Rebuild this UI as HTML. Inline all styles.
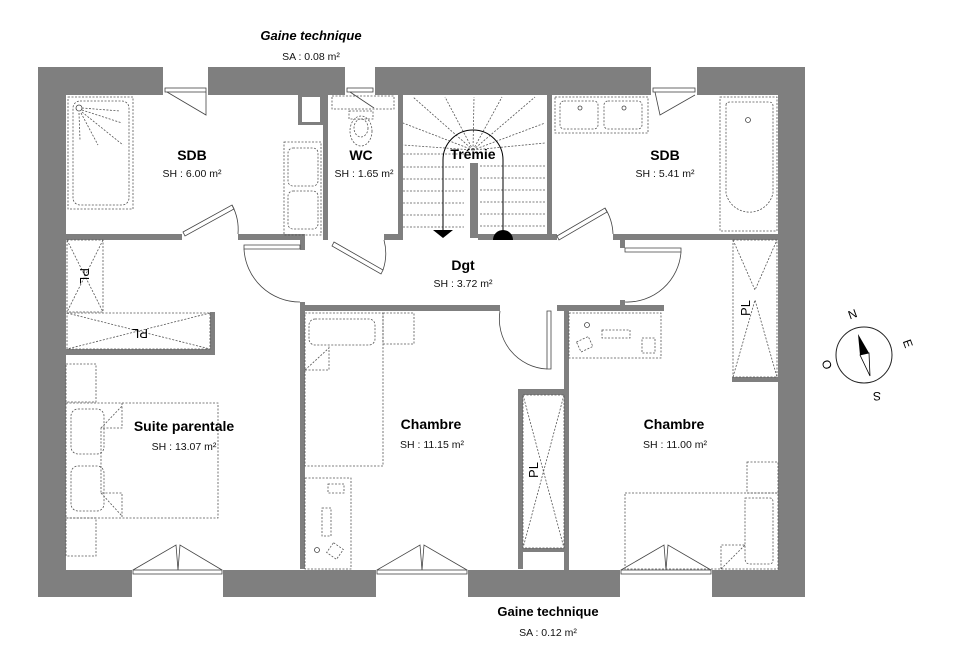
<!DOCTYPE html>
<html><head><meta charset="utf-8"><style>
html,body{margin:0;padding:0;background:#fff;}
svg{display:block;}
svg text{font-family:"Liberation Sans",Arial,sans-serif;}
.d{fill:none;stroke:#555;stroke-width:0.8;stroke-dasharray:2 1.5;}
.l{fill:none;stroke:#444;stroke-width:0.8;}
.t{font-weight:bold;font-size:14px;text-anchor:middle;fill:#000;}
.s{font-size:10.5px;text-anchor:middle;fill:#111;}
</style></head><body>
<svg width="960" height="664" viewBox="0 0 960 664">
<rect x="38" y="67" width="767" height="530" fill="#7f7f7f"/>
<rect x="66" y="95" width="712" height="475" fill="#fff"/>
<g fill="#fff">
<rect x="163" y="67" width="45" height="28"/><rect x="345" y="67" width="30" height="28"/><rect x="651" y="67" width="46" height="28"/>
<rect x="132" y="569" width="91" height="28"/><rect x="376" y="569" width="92" height="28"/><rect x="620" y="569" width="92" height="28"/>
</g>
<g class="l">
<rect x="165" y="88" width="41" height="4"/><rect x="347" y="88" width="26" height="4"/><rect x="653" y="88" width="42" height="4"/>
<path d="M167 92 L206 115 L206 92"/><path d="M350 92 L374 108"/><path d="M655 92 L660 115 L695 95"/>
<rect x="133" y="570" width="89" height="4"/><rect x="377" y="570" width="90" height="4"/><rect x="621" y="570" width="90" height="4"/>
<path d="M133 570 L176 545 L178 570 L180 545 L222 570"/><path d="M377 570 L420 545 L422 570 L424 545 L467 570"/><path d="M621 570 L664 545 L666 570 L668 545 L711 570"/>
</g>
<g fill="#7f7f7f">
<rect x="66" y="234" width="116" height="6"/><rect x="238" y="234" width="67" height="6"/>
<rect x="323" y="95" width="5" height="145"/><rect x="298" y="95" width="25" height="30"/>
<rect x="398" y="95" width="5" height="145"/><rect x="547" y="95" width="5" height="145"/>
<rect x="384" y="234" width="19" height="6"/><rect x="478" y="234" width="79" height="6"/><rect x="613" y="234" width="165" height="6"/>
<rect x="470" y="163" width="8" height="75"/>
<rect x="300" y="240" width="5" height="10"/><rect x="300" y="302" width="5" height="267"/>
<rect x="305" y="305" width="195" height="6"/><rect x="557" y="305" width="107" height="6"/>
<rect x="620" y="240" width="5" height="8"/><rect x="620" y="300" width="5" height="8"/>
<rect x="564" y="308" width="5" height="262"/>
<rect x="518" y="389" width="46" height="6"/><rect x="518" y="389" width="5" height="180"/><rect x="518" y="548" width="46" height="4"/>
<rect x="732" y="377" width="46" height="5"/>
<rect x="66" y="349" width="149" height="6"/><rect x="210" y="312" width="5" height="43"/>
</g>
<rect x="302" y="97" width="18" height="25" fill="#fff"/>
<rect x="523" y="552" width="41" height="17" fill="#fff"/>
<g class="l">
<path d="M183 232 L232 205 L234 209 L185 236 Z"/><path d="M232 205 A52 52 0 0 1 238 234"/>
<path d="M244 245 L300 245 L300 249 L244 249 Z"/><path d="M244 249 A56 56 0 0 0 300 302"/>
<path d="M334 242 L383 270 L381 274 L332 246 Z"/><path d="M384 240 A52 52 0 0 1 383 270"/>
<path d="M557 236 L605 208 L607 212 L559 240 Z"/><path d="M605 208 A52 52 0 0 1 613 234"/>
<path d="M625 248 L681 248 L681 252 L625 252 Z"/><path d="M681 252 A54 54 0 0 1 625 302"/>
<path d="M547 311 L551 311 L551 369 L547 369 Z"/><path d="M500 311 A50 50 0 0 0 547 369"/>
</g>
<rect class="d" x="68" y="97" width="65" height="112"/><rect class="d" x="73" y="101" width="56" height="104" rx="7"/>
<circle class="l" cx="79" cy="108" r="3"/>
<path class="d" d="M82 108 L120 111 M82 110 L122 123 M82 112 L123 145 M81 113 L98 145 M79 113 L80 140"/>
<rect class="d" x="284" y="142" width="37" height="93"/><rect class="d" x="288" y="148" width="30" height="38" rx="5"/><rect class="d" x="288" y="191" width="30" height="38" rx="5"/>
<rect class="d" x="332" y="96" width="62" height="13"/><rect class="d" x="349" y="111" width="24" height="8"/><ellipse class="d" cx="361" cy="131" rx="11" ry="15"/><ellipse class="d" cx="361" cy="128" rx="7" ry="9"/>
<g class="d">
<path d="M403 154 H464 M403 167 H464 M403 179 H464 M403 191 H464 M403 203 H464 M403 215 H464 M403 227 H464"/>
<path d="M480 166 H545 M480 178 H545 M480 190 H545 M480 202 H545 M480 214 H545 M480 226 H545"/>
<path d="M473 150 L413 97 M473 150 L445 97 M473 150 L474 97 M473 150 L502 97 M473 150 L535 97 M473 150 L403 123 M473 150 L545 123 M473 150 L403 145 M473 150 L545 143"/>
</g>
<path d="M443 235 V160 A30 30 0 0 1 503 160 V235" fill="none" stroke="#000" stroke-width="1"/>
<path d="M433 230 H453 L443 238 Z" fill="#000"/>
<path d="M493 240 A10 10 0 0 1 513 240 Z" fill="#000"/>
<rect class="d" x="555" y="97" width="93" height="36"/><rect class="d" x="560" y="101" width="38" height="28" rx="4"/><rect class="d" x="604" y="101" width="38" height="28" rx="4"/>
<circle class="l" cx="580" cy="108" r="2"/><circle class="l" cx="624" cy="108" r="2"/>
<rect class="d" x="720" y="97" width="57" height="134"/><path class="d" d="M726 105 Q726 102 730 102 L769 102 Q773 102 773 106 L773 193 A24 24 0 0 1 726 193 Z"/>
<circle class="l" cx="748" cy="120" r="2.5"/>
<rect class="d" x="67" y="240" width="36" height="72"/><path class="d" d="M67 240 L103 312 M103 240 L67 312"/>
<rect class="d" x="67" y="313" width="143" height="36"/><path class="d" d="M67 313 L210 349 M210 313 L67 349"/>
<rect class="d" x="523" y="395" width="41" height="153"/><path class="d" d="M523 395 L564 548 M564 395 L523 548"/>
<rect class="d" x="733" y="240" width="44" height="137"/><path class="d" d="M733 240 L755 290 L777 240 M733 377 L755 300 L777 377"/>
<g font-size="13" fill="#000">
<text transform="translate(80,276) rotate(90)" text-anchor="middle">PL</text>
<text transform="translate(140,329) rotate(180)" text-anchor="middle">PL</text>
<text transform="translate(538,470) rotate(-90)" text-anchor="middle">PL</text>
<text transform="translate(750,308) rotate(-90)" text-anchor="middle">PL</text>
</g>
<rect class="d" x="66" y="364" width="30" height="38"/><rect class="d" x="66" y="518" width="30" height="38"/>
<rect class="d" x="66" y="403" width="152" height="115"/>
<path class="d" d="M122 403 V428 H101 V493 H122 V518"/>
<rect class="d" x="71" y="409" width="33" height="45" rx="7"/><rect class="d" x="71" y="466" width="33" height="45" rx="7"/>
<path class="d" d="M101 428 L122 406 M101 493 L122 516"/>
<rect class="d" x="305" y="313" width="78" height="153"/><rect class="d" x="309" y="319" width="66" height="26" rx="6"/><path class="d" d="M305 370 H329 V346 M305 370 L329 348"/>
<rect class="d" x="383" y="313" width="31" height="31"/>
<rect class="d" x="305" y="478" width="46" height="91"/><rect class="d" x="328" y="484" width="16" height="9"/><rect class="d" x="322" y="508" width="9" height="28"/><circle class="l" cx="317" cy="550" r="2.5"/><rect class="d" x="329" y="545" width="12" height="12" transform="rotate(35 335 551)"/>
<rect class="d" x="569" y="313" width="92" height="45"/><rect class="d" x="602" y="330" width="28" height="8"/><rect class="d" x="642" y="338" width="13" height="15"/><circle class="l" cx="587" cy="325" r="2.5"/><rect class="d" x="578" y="339" width="13" height="11" transform="rotate(-25 584 344)"/>
<rect class="d" x="625" y="493" width="153" height="76"/><rect class="d" x="747" y="462" width="31" height="31"/>
<path class="d" d="M745 498 H770 Q773 498 773 502 V560 Q773 564 769 564 H750 Q745 564 745 558 Z M721 569 V545 H745 M721 569 L745 545"/>
<text x="311" y="40" font-size="13" font-weight="bold" font-style="italic" text-anchor="middle">Gaine technique</text>
<text x="311" y="60" class="s">SA : 0.08 m²</text>
<text x="192" y="160" class="t">SDB</text><text x="192" y="177" class="s">SH : 6.00 m²</text>
<text x="361" y="160" class="t">WC</text><text x="364" y="177" class="s">SH : 1.65 m²</text>
<text x="473" y="159" class="t">Trémie</text>
<text x="665" y="160" class="t">SDB</text><text x="665" y="177" class="s">SH : 5.41 m²</text>
<text x="463" y="270" class="t">Dgt</text><text x="463" y="287" class="s">SH : 3.72 m²</text>
<text x="184" y="431" class="t">Suite parentale</text><text x="184" y="450" class="s">SH : 13.07 m²</text>
<text x="431" y="429" class="t">Chambre</text><text x="432" y="448" class="s">SH : 11.15 m²</text>
<text x="674" y="429" class="t">Chambre</text><text x="675" y="448" class="s">SH : 11.00 m²</text>
<text x="548" y="616" font-size="13" font-weight="bold" text-anchor="middle">Gaine technique</text>
<text x="548" y="636" class="s">SA : 0.12 m²</text>
<circle cx="864" cy="355" r="28" fill="none" stroke="#222" stroke-width="1"/>
<path d="M858 334 L869 353 L860 355 Z" fill="#000"/><path d="M860 355 L869 353 L870 376 Z" fill="#fff" stroke="#000" stroke-width="0.8"/>
<g font-size="12" fill="#000" text-anchor="middle">
<text transform="translate(854,318) rotate(-20)">N</text>
<text transform="translate(904,345) rotate(70)">E</text>
<text transform="translate(823,366) rotate(70)">O</text>
<text transform="translate(877,392) rotate(180)">S</text>
</g>
</svg>
</body></html>
